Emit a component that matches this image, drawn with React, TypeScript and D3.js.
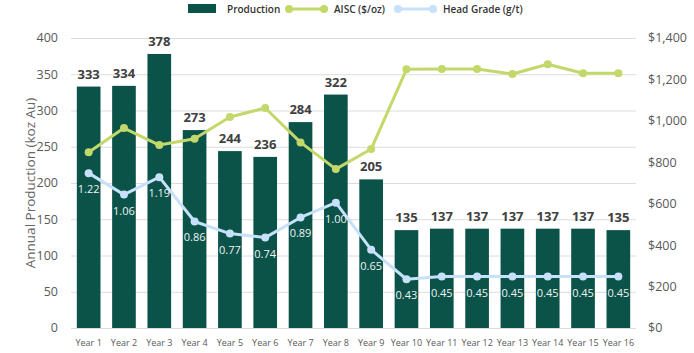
import * as d3 from 'd3';
import { useEffect, useRef } from 'react';

const years = ['Year 1', 'Year 2', 'Year 3', 'Year 4', 'Year 5', 'Year 6', 'Year 7', 'Year 8',
    'Year 9', 'Year 10', 'Year 11', 'Year 12', 'Year 13', 'Year 14', 'Year 15', 'Year 16'];
const production = [333, 334, 378, 273, 244, 236, 284, 322, 205, 135, 137, 137, 137, 137, 137, 135];
const aisc = [848, 965, 883, 914, 1019, 1062, 896, 767, 864, 1249, 1250, 1250, 1226, 1273, 1230, 1230];
const headGrade = [1.22, 1.06, 1.19, 0.86, 0.77, 0.74, 0.89, 1.00, 0.65, 0.43, 0.45, 0.45, 0.45, 0.45, 0.45, 0.45];
const leftTicks = [0, 50, 100, 150, 200, 250, 300, 350, 400];
const rightTicks = [0, 200, 400, 600, 800, 1000, 1200, 1400];

const width = 694;
const height = 353;
const margin = { top: 38, right: 58, bottom: 25, left: 71 };
const font = "'Open Sans', 'Noto Sans', sans-serif";

const barColor = '#0b5249';
const aiscColor = '#c3d86a';
const gradeColor = '#c7e1fa';

const ProductionChart: React.FC = () => {
    const ref = useRef<SVGSVGElement | null>(null);

    useEffect(() => {
        const svg = d3.select(ref.current);
        svg.selectAll('*').remove();

        const x0 = margin.left;
        const x1 = width - margin.right;
        const yBottom = height - margin.bottom;

        const xScale = d3.scaleBand<string>()
            .domain(years)
            .range([x0, x1])
            .paddingInner(0.33)
            .paddingOuter(0.33 / 2);

        const yLeft = d3.scaleLinear().domain([0, 400]).range([yBottom, margin.top]);
        const yRight = d3.scaleLinear().domain([0, 1400]).range([yBottom, margin.top]);
        // head grade rides on a hidden axis
        const yGrade = d3.scaleLinear().domain([0, 2.2]).range([337, 41.5]);

        const cx = (d: string) => (xScale(d) as number) + xScale.bandwidth() / 2;

        // gridlines
        svg.append('g')
            .selectAll('line')
            .data(leftTicks)
            .enter()
            .append('line')
            .attr('x1', x0)
            .attr('x2', x1)
            .attr('y1', d => yLeft(d) + 0.5)
            .attr('y2', d => yLeft(d) + 0.5)
            .attr('stroke', '#dcdcdc')
            .attr('stroke-width', 1);

        // left ticks
        svg.append('g')
            .selectAll('text')
            .data(leftTicks)
            .enter()
            .append('text')
            .attr('x', 58)
            .attr('y', d => yLeft(d))
            .attr('dy', '0.35em')
            .attr('text-anchor', 'end')
            .attr('font-size', 12.5)
            .attr('fill', '#595959')
            .text(d => d);

        // right ticks
        svg.append('g')
            .selectAll('text')
            .data(rightTicks)
            .enter()
            .append('text')
            .attr('x', 648)
            .attr('y', d => yRight(d))
            .attr('dy', '0.35em')
            .attr('text-anchor', 'start')
            .attr('font-size', 12.5)
            .attr('fill', '#595959')
            .text(d => '$' + d3.format(',')(d));

        // axis title
        svg.append('text')
            .attr('transform', `translate(30,${(margin.top + yBottom) / 2}) rotate(-90)`)
            .attr('text-anchor', 'middle')
            .attr('dy', '0.35em')
            .attr('font-size', 13.5)
            .attr('fill', '#666')
            .text('Annual Production (koz Au)');

        // x labels
        svg.append('g')
            .selectAll('text')
            .data(years)
            .enter()
            .append('text')
            .attr('x', d => cx(d))
            .attr('y', 346)
            .attr('text-anchor', 'middle')
            .attr('font-size', 9)
            .attr('fill', '#595959')
            .text(d => d);

        // bars
        svg.append('g')
            .selectAll('rect')
            .data(production)
            .enter()
            .append('rect')
            .attr('x', (d, i) => xScale(years[i]) as number)
            .attr('y', d => yLeft(d))
            .attr('width', xScale.bandwidth())
            .attr('height', d => yBottom - yLeft(d))
            .attr('fill', barColor);

        svg.append('g')
            .selectAll('text')
            .data(production)
            .enter()
            .append('text')
            .attr('x', (d, i) => cx(years[i]))
            .attr('y', d => yLeft(d) - 8)
            .attr('text-anchor', 'middle')
            .attr('font-size', 13)
            .attr('font-weight', 'bold')
            .attr('fill', '#404040')
            .text(d => d);

        // AISC line
        const aiscLine = d3.line<number>()
            .x((d, i) => cx(years[i]))
            .y(d => yRight(d));

        svg.append('path')
            .attr('d', aiscLine(aisc))
            .attr('fill', 'none')
            .attr('stroke', aiscColor)
            .attr('stroke-width', 3)
            .attr('stroke-linejoin', 'round');

        svg.append('g')
            .selectAll('circle')
            .data(aisc)
            .enter()
            .append('circle')
            .attr('cx', (d, i) => cx(years[i]))
            .attr('cy', d => yRight(d))
            .attr('r', 4)
            .attr('fill', aiscColor);

        // head grade line
        const gradeLine = d3.line<number>()
            .x((d, i) => cx(years[i]))
            .y(d => yGrade(d));

        svg.append('path')
            .attr('d', gradeLine(headGrade))
            .attr('fill', 'none')
            .attr('stroke', gradeColor)
            .attr('stroke-width', 3)
            .attr('stroke-linejoin', 'round');

        svg.append('g')
            .selectAll('circle')
            .data(headGrade)
            .enter()
            .append('circle')
            .attr('cx', (d, i) => cx(years[i]))
            .attr('cy', d => yGrade(d))
            .attr('r', 4)
            .attr('fill', gradeColor);

        svg.append('g')
            .selectAll('text')
            .data(headGrade)
            .enter()
            .append('text')
            .attr('x', (d, i) => cx(years[i]))
            .attr('y', d => yGrade(d) + 20)
            .attr('text-anchor', 'middle')
            .attr('font-size', 11)
            .attr('fill', '#eef3f3')
            .text(d => d.toFixed(2));

        // legend
        const legend = svg.append('g').attr('font-size', 10).attr('font-weight', 600).attr('fill', '#333');
        legend.append('rect').attr('x', 188).attr('y', 4).attr('width', 28).attr('height', 9).attr('fill', barColor);
        legend.append('text').attr('x', 227).attr('y', 9).attr('dy', '0.35em').text('Production');

        const legendLines = [
            { x: 289, color: aiscColor, label: 'AISC ($/oz)', tx: 334 },
            { x: 398, color: gradeColor, label: 'Head Grade (g/t)', tx: 443 },
        ];
        legendLines.forEach(l => {
            legend.append('line')
                .attr('x1', l.x).attr('x2', l.x + 35)
                .attr('y1', 9).attr('y2', 9)
                .attr('stroke', l.color).attr('stroke-width', 3);
            legend.append('circle').attr('cx', l.x).attr('cy', 9).attr('r', 4).attr('fill', l.color);
            legend.append('circle').attr('cx', l.x + 35).attr('cy', 9).attr('r', 4).attr('fill', l.color);
            legend.append('text').attr('x', l.tx).attr('y', 9).attr('dy', '0.35em').text(l.label);
        });
    }, []);

    return (
        <svg
            ref={ref}
            width={width}
            height={height}
            style={{ position: 'absolute', left: 0, top: 0, display: 'block', fontFamily: font }}
        />
    );
};

export default function App() {
    return <ProductionChart />;
}
